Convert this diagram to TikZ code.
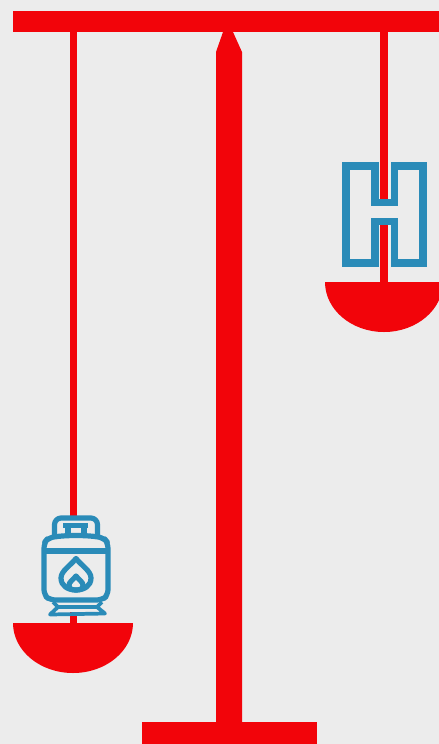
\documentclass[tikz,border=0pt]{standalone}
\usepackage{xcolor}
\usepackage{tikz}
\usetikzlibrary{calc}

\definecolor{balancered}{HTML}{F2040A}
\definecolor{iconblue}{HTML}{2A8BB8}
\definecolor{wallgray}{HTML}{ECECEC}

\tikzset{
	solidpart/.style={fill=balancered, draw=none},
	stringline/.style={draw=balancered, line width=4.9pt},
	iconline/.style={draw=iconblue, line width=3.9pt, line join=round},
}

\begin{document}
\begin{tikzpicture}[x=0.75pt, y=-0.75pt]
		% Background
		\clip (0,0) rectangle (439,744);
		\fill[wallgray] (0,0) rectangle (439,744);
		
		% Hanging points
		\coordinate (LeftTop) at (73.5,32);
		\coordinate (LeftPan) at (73.5,623);
		\coordinate (RightTop) at (384,32);
		\coordinate (RightPan) at (384,282);
		
		% Left string
		\draw[stringline] (LeftTop) -- (73.5,516);
		\draw[stringline] (73.5,612) -- (LeftPan);
		
		% Beam, post and foot
		\fill[solidpart] (13,11) rectangle (439,32);
		\fill[solidpart] (223,32) -- (233,32) -- (242,52) -- (242,722) -- (216,722) -- (216,52) -- cycle;
		\fill[solidpart] (142,722) rectangle (317,744);
		
		% Pans
		\fill[solidpart] (13,623) arc[start angle=180, end angle=360, x radius=60, y radius=-50] -- cycle;
		\fill[solidpart] (325,282) arc[start angle=180, end angle=360, x radius=59, y radius=-50] -- cycle;
		
		% Letter H
		\draw[iconline, line width=5.8pt, line join=miter, fill=wallgray]
		(346,166) -- (375,166) -- (375,202.5) -- (394.5,202.5) -- (394.5,166) -- (423,166)
		-- (423,263) -- (394.5,263) -- (394.5,221.5) -- (375,221.5) -- (375,263) -- (346,263) -- cycle;
		\draw[stringline, line width=5.7pt] (RightTop) -- (384,199);
		\draw[stringline, line width=5.7pt] (384,225) -- (RightPan);
		\draw[iconblue, line width=5.8pt] (371,202.5) -- (398,202.5);
		\draw[iconblue, line width=5.8pt] (371,221.5) -- (398,221.5);
		
		% Gas bottle: handle and valve
		\draw[iconline, rounded corners=5pt] (54.5,537) -- (54.5,518) -- (97.5,518) -- (97.5,537);
		\draw[iconline] (63,525.5) -- (88,525.5);
		\draw[iconline] (68,525.5) -- (68,536);
		\draw[iconline] (84,525.5) -- (84,536);
		
		% Gas bottle: body
		\draw[iconline, fill=wallgray, rounded corners=4pt]
		(44,543) -- (48,538) .. controls (65,535) and (87,535) .. (104,538) -- (108,543)
		-- (108,595) -- (102,600) -- (50,600) -- (44,595) -- cycle;
		\draw[iconline] (44,551) -- (108,551);
		
		% Gas bottle: stand
		\draw[iconline, line width=2.8pt] (53,602) -- (58,607) -- (50,614.5) -- (105,613.5) -- (97,607) -- (102,602);
		\draw[iconline, line width=2.8pt] (58,607) -- (97,607);
		
		% Gas bottle: flame
		\draw[iconline] (76,558.5) .. controls (70,566) and (61,571) .. (61,578)
		.. controls (61,586) and (68,590) .. (76,590)
		.. controls (84,590) and (91,586) .. (91,578)
		.. controls (91,571) and (82,566) .. (76,558.5) -- cycle;
		\draw[iconline] (76,576) .. controls (73,580) and (69,582) .. (69,585)
		.. controls (69,589) and (72,590) .. (76,590)
		.. controls (80,590) and (83,589) .. (83,585)
		.. controls (83,582) and (79,580) .. (76,576) -- cycle;
	\end{tikzpicture}
\end{document}
